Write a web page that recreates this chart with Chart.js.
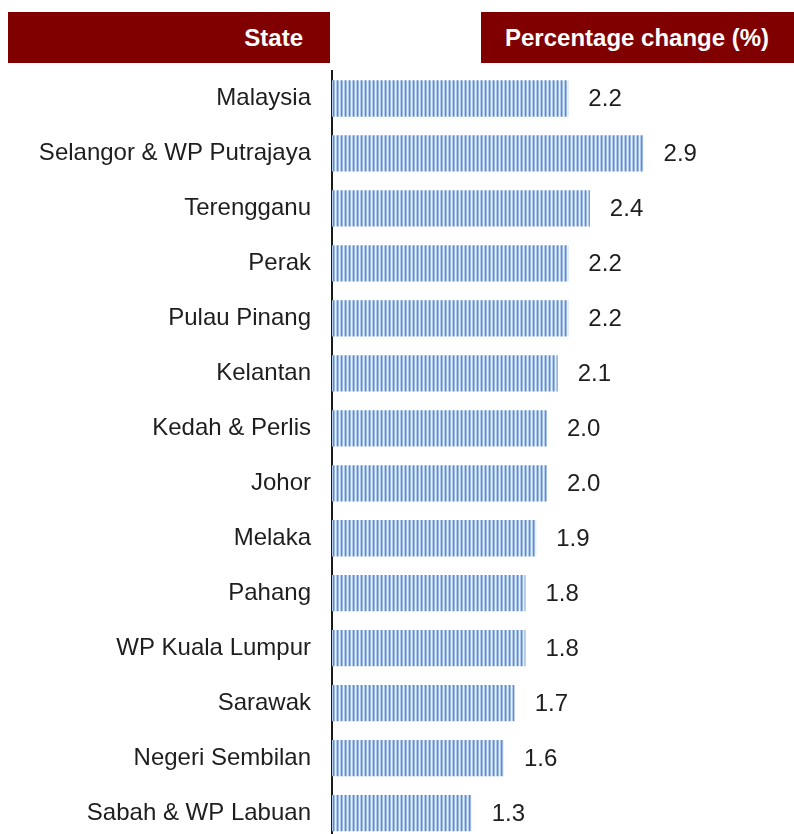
<!DOCTYPE html>
<html>
<head>
<meta charset="utf-8">
<script src="https://cdn.jsdelivr.net/npm/chart.js@4.4.1/dist/chart.umd.min.js"></script>
<style>
	html, body { margin: 0; padding: 0; background: #fff; overflow: hidden; }
	.wrap { position: relative; width: 794px; height: 834px; overflow: hidden; }
	.head {
		position: absolute; top: 12px; height: 51px; background: #800000;
		color: #fff; font: bold 24px 'Liberation Sans', Arial, sans-serif;
		line-height: 51px; box-sizing: border-box;
	}
	.head--state { left: 8px; width: 322px; text-align: right; padding-right: 27px; }
	.head--pct { left: 481px; width: 313px; padding-left: 24px; }
	#chart { position: absolute; left: 0; top: 0; }
</style>
</head>
<body>
<div class="wrap">
	<!-- taller than the window: the last row is cut at the bottom edge like the source -->
	<canvas id="chart" width="794" height="876"></canvas>
	<div class="head head--state">State</div>
	<div class="head head--pct">Percentage change (%)</div>
</div>
<script>
const states = [
	'Malaysia', 'Selangor & WP Putrajaya', 'Terengganu', 'Perak', 'Pulau Pinang',
	'Kelantan', 'Kedah & Perlis', 'Johor', 'Melaka', 'Pahang',
	'WP Kuala Lumpur', 'Sarawak', 'Negeri Sembilan', 'Sabah & WP Labuan',
];
const pctChange = [2.2, 2.9, 2.4, 2.2, 2.2, 2.1, 2.0, 2.0, 1.9, 1.8, 1.8, 1.7, 1.6, 1.3];

// striped fill like the original
function stripePattern() {
	const c = document.createElement('canvas');
	c.width = 4;
	c.height = 4;
	const g = c.getContext('2d');
	const cols = ['#b3cbeb', '#5b8cd3', '#9dbbe6', '#e8f0fa'];
	cols.forEach((col, i) => {
		g.fillStyle = col;
		g.fillRect(i, 0, 1, 4);
	});
	return g.createPattern(c, 'repeat');
}

// value text to the right of each bar
const valueLabels = {
	id: 'valueLabels',
	afterDatasetsDraw(chart) {
		const ctx = chart.ctx;
		const meta = chart.getDatasetMeta(0);
		ctx.save();
		ctx.font = '24px "Liberation Sans", Arial, sans-serif';
		ctx.fillStyle = '#1e1e1e';
		ctx.textBaseline = 'middle';
		ctx.textAlign = 'left';
		meta.data.forEach((bar, i) => {
			ctx.fillText(pctChange[i].toFixed(1), bar.x + 20, bar.y + 1);
		});
		ctx.restore();
	},
};

const ctx = document.getElementById('chart').getContext('2d');
new Chart(ctx, {
	type: 'bar',
	data: {
		labels: states,
		datasets: [{
			data: pctChange,
			backgroundColor: stripePattern(),
			borderWidth: 0,
			barPercentage: 0.66,
			categoryPercentage: 1,
		}],
	},
	options: {
		indexAxis: 'y',
		responsive: false,
		animation: false,
		layout: { padding: { top: 71, right: 0, bottom: 0, left: 0 } },
		plugins: {
			legend: { display: false },
			tooltip: { enabled: false },
		},
		scales: {
			x: { display: false, min: 0, max: 4.3 },
			y: {
				afterFit(scale) { scale.width = 332; },
				grid: { display: false, drawTicks: false },
				border: { display: true, color: '#1a1a1a', width: 2 },
				ticks: {
					padding: 21,
					color: '#1e1e1e',
					font: { family: '"Liberation Sans", Arial, sans-serif', size: 24 },
				},
			},
		},
	},
	plugins: [valueLabels],
});
</script>
</body>
</html>
